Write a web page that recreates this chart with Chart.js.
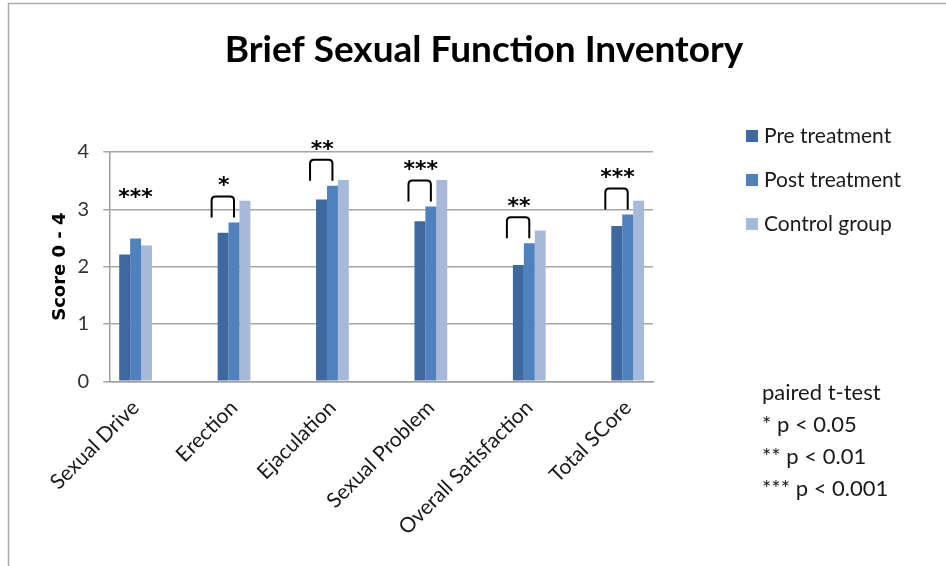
<!DOCTYPE html>
<html>
<head>
<meta charset="utf-8">
<script src="https://cdn.jsdelivr.net/npm/chart.js@4.4.1/dist/chart.umd.min.js"></script>
<style>
  html, body { margin: 0; padding: 0; background: #fff; }
  #wrap { position: relative; width: 946px; height: 566px; }
</style>
</head>
<body>
<div id="wrap"><canvas id="bsfi"></canvas></div>
<script>
// categories and mean scores (0 - 4)
var categories = ['Sexual Drive', 'Erection', 'Ejaculation', 'Sexual Problem', 'Overall Satisfaction', 'Total SCore'];
var preTreatment = [2.21, 2.59, 3.17, 2.79, 2.03, 2.71];
var postTreatment = [2.49, 2.77, 3.41, 3.05, 2.41, 2.91];
var controlGroup = [2.37, 3.15, 3.51, 3.51, 2.63, 3.15];
var significance = ['***', '*', '**', '***', '**', '***'];  // pre vs post
var hasBracket = [false, true, true, true, true, true];
var yTicks = [0, 1, 2, 3, 4];
var testNotes = ['paired t-test', '* p < 0.05', '** p < 0.01', '*** p < 0.001'];
var titleText = 'Brief Sexual Func\u200Ction Inventory';

var colors = ['#3D68A0', '#4F81BD', '#A7B9DA'];
var bodyFont = 'Lato, "Open Sans", sans-serif';

function points(values) {
    return values.map(function (v, i) { return { x: i, y: v }; });
}

// frame, title, legend, significance marks and the test note
var extras = {
    id: 'extras',
    beforeDraw: function (chart) {
        var ctx = chart.ctx;
        ctx.save();
        ctx.strokeStyle = '#ABABAB';
        ctx.lineWidth = 1.5;
        ctx.beginPath();
        ctx.moveTo(8.5, 566);
        ctx.lineTo(8.5, 3.5);
        ctx.lineTo(946, 3.5);
        ctx.stroke();
        ctx.restore();
    },
    afterDatasetsDraw: function (chart) {
        var ctx = chart.ctx;
        var pre = chart.getDatasetMeta(0).data;
        var post = chart.getDatasetMeta(1).data;
        ctx.save();
        ctx.strokeStyle = '#000';
        ctx.fillStyle = '#000';
        ctx.lineWidth = 2;
        ctx.font = 'bold 22px "DejaVu Sans"';
        ctx.textAlign = 'center';
        ctx.textBaseline = 'middle';
        significance.forEach(function (s, i) {
            var p = pre[i], q = post[i];
            var sx, sy;
            if (hasBracket[i]) {
                var left = p.x - p.width / 2 - 6;
                var right = q.x;
                var bot = q.y - 5;
                var top = bot - 21;
                ctx.beginPath();
                ctx.moveTo(left, bot);
                ctx.lineTo(left, top + 4);
                ctx.quadraticCurveTo(left, top, left + 4, top);
                ctx.lineTo(right - 4, top);
                ctx.quadraticCurveTo(right, top, right, top + 4);
                ctx.lineTo(right, bot);
                ctx.stroke();
                sx = (left + right) / 2 + 1;
                sy = top - 16;
            } else {
                sx = q.x;
                sy = q.y - 46;
            }
            ctx.fillText(s, sx, sy + 6);
        });
        ctx.restore();
    },
    afterDraw: function (chart) {
        var ctx = chart.ctx;
        ctx.save();
        ctx.textAlign = 'center';
        ctx.textBaseline = 'middle';
        ctx.fillStyle = '#000';
        ctx.font = 'bold 37px ' + bodyFont;
        ctx.fillText(titleText, 484, 50);

        ctx.textAlign = 'left';
        ctx.font = '21px ' + bodyFont;
        chart.data.datasets.forEach(function (ds, i) {
            var y = 136 + i * 44;
            ctx.fillStyle = ds.backgroundColor;
            ctx.fillRect(746, y - 6, 12, 12);
            ctx.fillStyle = '#1a1a1a';
            ctx.fillText(ds.label, 764, y);
        });
        ctx.font = '22px ' + bodyFont;
        testNotes.forEach(function (t, i) {
            ctx.fillText(t, 762, 393 + i * 32);
        });
        ctx.restore();
    }
};

var ctx = document.getElementById('bsfi').getContext('2d');
var chart = new Chart(ctx, {
    type: 'bar',
    data: {
        datasets: [
            { label: 'Pre treatment', data: points(preTreatment), backgroundColor: colors[0] },
            { label: 'Post treatment', data: points(postTreatment), backgroundColor: colors[1] },
            { label: 'Control group', data: points(controlGroup), backgroundColor: colors[2] }
        ]
    },
    options: {
        responsive: true,
        maintainAspectRatio: false,
        animation: false,
        categoryPercentage: 0.333,
        barPercentage: 1.0,
        layout: { padding: { left: 22, right: 293, top: 152, bottom: 20 } },
        plugins: {
            legend: { display: false },
            tooltip: { enabled: false },
            title: { display: false }
        },
        scales: {
            x: {
                type: 'linear',
                offset: false,
                min: -0.258,
                max: 5.257,
                grid: { display: false },
                border: { display: true, color: '#A0A0A0', width: 1.5 },
                ticks: {
                    stepSize: 1,
                    includeBounds: false,
                    autoSkip: false,
                    minRotation: 45,
                    maxRotation: 45,
                    padding: 6,
                    color: '#1a1a1a',
                    font: { family: bodyFont, size: 21 },
                    callback: function (v) {
                        return Number.isInteger(v) ? categories[v] : '';
                    }
                }
            },
            y: {
                min: yTicks[0],
                max: yTicks[yTicks.length - 1],
                grid: { color: '#A6A6A6', lineWidth: 1.5, tickLength: 7 },
                border: { display: true, color: '#A0A0A0', width: 1.5 },
                afterBuildTicks: function (scale) {
                    scale.ticks = yTicks.map(function (v) { return { value: v }; });
                },
                ticks: {
                    padding: 14,
                    color: '#333',
                    font: { family: bodyFont, size: 20 }
                },
                title: {
                    display: true,
                    text: 'Score 0 - 4',
                    color: '#000',
                    padding: { top: 28, bottom: -8 },
                    font: { family: '"DejaVu Sans", sans-serif', size: 18, weight: 'bold' }
                }
            }
        }
    },
    plugins: [extras]
});
</script>
</body>
</html>
